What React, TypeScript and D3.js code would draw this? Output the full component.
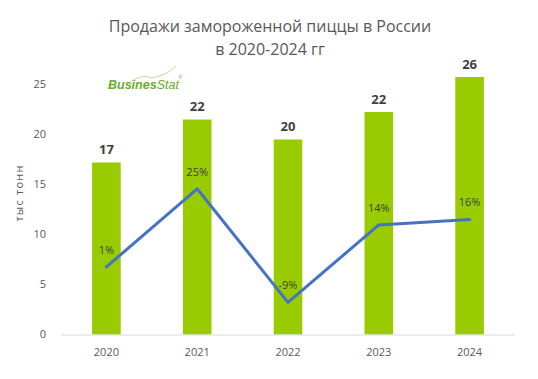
import React from "react";
import * as d3 from "d3";

const years = ["2020", "2021", "2022", "2023", "2024"];
const sales = [17.2, 21.5, 19.5, 22.25, 25.75];
const salesLabels = ["17", "22", "20", "22", "26"];
const growth = [0.014, 0.25, -0.093, 0.141, 0.157];
const growthLabels = ["1%", "25%", "-9%", "14%", "16%"];
const yTicks = [0, 5, 10, 15, 20, 25];
const titleLines = ["Продажи замороженной пиццы в России", "в 2020-2024 гг"];

const W = 538;
const H = 379;
const M = { left: 61, right: 23, top: 84.5, bottom: 44.5 };
const FONT = "'Open Sans', 'Noto Sans', sans-serif";

export default function App() {
  const x = d3
    .scaleBand<string>()
    .domain(years)
    .range([M.left, W - M.right])
    .paddingInner(0.685)
    .paddingOuter(0.3425);
  const y = d3.scaleLinear().domain([0, 25]).range([H - M.bottom, M.top]);
  const y2 = d3.scaleLinear().domain([-0.19, 0.565]).range([H - M.bottom, M.top]);
  const cx = (d: string) => (x(d) as number) + x.bandwidth() / 2;
  const line = d3
    .line<number>()
    .x((_, i) => cx(years[i]))
    .y((d) => y2(d));

  return (
    <svg
      width={W}
      height={H}
      style={{ position: "absolute", left: 0, top: 0, background: "#fff" }}
      fontFamily={FONT}
    >
      <rect width={W} height={H} fill="#fff" />
      {titleLines.map((t, i) => (
        <text
          key={i}
          x={W / 2 + 1}
          y={32 + i * 23}
          textAnchor="middle"
          fontSize={16}
          fill="#595959"
        >
          {t}
        </text>
      ))}
      {yTicks.map((t) => (
        <text
          key={t}
          x={46}
          y={y(t)}
          dy="0.35em"
          textAnchor="end"
          fontSize={11}
          fill="#595959"
        >
          {t}
        </text>
      ))}
      <text
        transform={`translate(23,${193}) rotate(-90)`}
        textAnchor="middle"
        fontSize={11}
        letterSpacing={1.2}
        fill="#595959"
      >
        тыс тонн
      </text>
      {years.map((yr, i) => (
        <rect
          key={yr}
          x={x(yr)}
          y={y(sales[i])}
          width={x.bandwidth()}
          height={y(0) - y(sales[i])}
          fill="#99cc00"
        />
      ))}
      <line
        x1={M.left}
        x2={W - M.right}
        y1={y(0) + 0.5}
        y2={y(0) + 0.5}
        stroke="#d9d9d9"
        strokeWidth={1}
      />
      {years.map((yr) => (
        <text
          key={yr}
          x={cx(yr)}
          y={y(0) + 18}
          dy="0.35em"
          textAnchor="middle"
          fontSize={11}
          fill="#595959"
        >
          {yr}
        </text>
      ))}
      {years.map((yr, i) => (
        <text
          key={yr}
          x={cx(yr)}
          y={y(sales[i]) - 13}
          dy="0.35em"
          textAnchor="middle"
          fontSize={13}
          fontWeight="bold"
          fill="#404040"
        >
          {salesLabels[i]}
        </text>
      ))}
      <path
        d={line(growth) as string}
        fill="none"
        stroke="#4472c4"
        strokeWidth={3}
        strokeLinejoin="round"
        strokeLinecap="round"
      />
      {years.map((yr, i) => (
        <text
          key={yr}
          x={cx(yr)}
          y={y2(growth[i]) - 17}
          dy="0.35em"
          textAnchor="middle"
          fontSize={11}
          fill="#404040"
        >
          {growthLabels[i]}
        </text>
      ))}
      <g>
        <path
          d="M131,81 C138,78 142,75 148,77 C152,79 156,77 162,75 C168,73 172,70 176,66"
          fill="none"
          stroke="#8cc63f"
          strokeWidth={0.8}
          opacity={0.7}
        />
        <text x={108} y={89} fontSize={12.5} fontStyle="italic" fill="#6aab2e" fontFamily="'Liberation Sans', Arial, sans-serif">
          <tspan fontWeight="bold">Busines</tspan>
          <tspan>Stat</tspan>
        </text>
        <text x={178.5} y={79} fontSize={5} fill="#6aab2e" fontFamily="'Liberation Sans', Arial, sans-serif">
          ®
        </text>
      </g>
    </svg>
  );
}
